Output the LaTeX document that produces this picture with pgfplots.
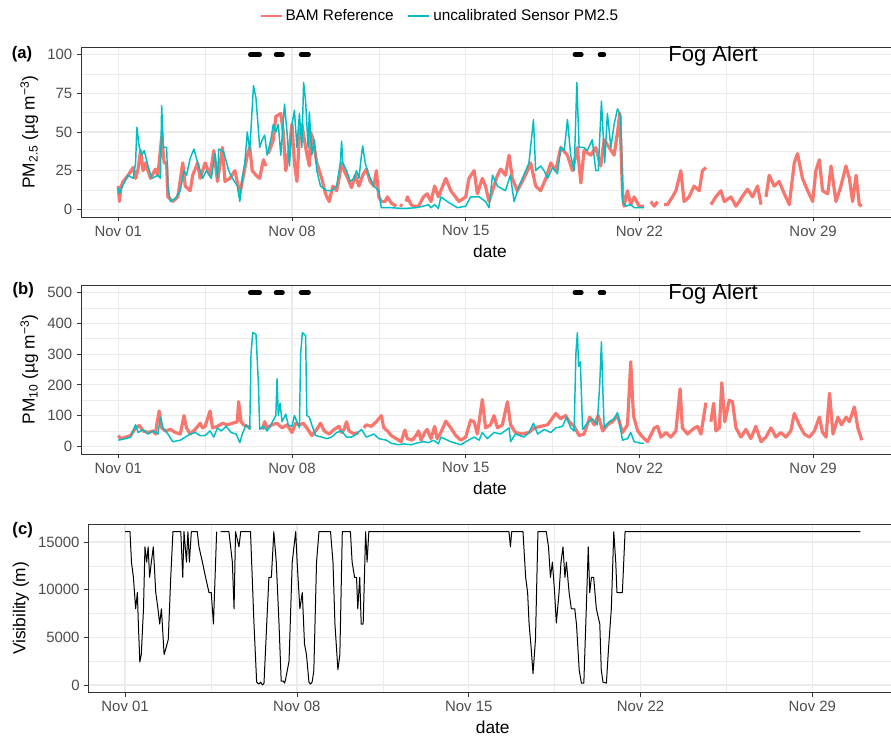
\documentclass[border=0pt]{standalone}
\usepackage{pgfplots}
\pgfplotsset{compat=1.18}
\usepackage{fontspec}
\setmainfont{Liberation Sans}
\definecolor{bam}{HTML}{F8766D}
\definecolor{sen}{HTML}{00BFC4}
\definecolor{gridc}{HTML}{EBEBEB}
\definecolor{framec}{HTML}{333333}
\definecolor{ticklab}{HTML}{4D4D4D}

\pgfplotsset{
  panel/.style={
    scale only axis,
    xmin=-1.5, xmax=31.46,
    xtick={0,7,14,21,28},
    xticklabels={Nov 01,Nov 08,Nov 15,Nov 22,Nov 29},
    minor xtick={3.5,10.5,17.5,24.5},
    grid=both,
    major grid style={gridc, line width=0.9pt},
    minor grid style={gridc, line width=0.45pt},
    axis line style={framec, line width=0.6pt},
    tick style={framec, line width=0.6pt},
    major tick length=3pt,
    minor tick length=0pt,
    tick align=outside,
    xtick pos=bottom, ytick pos=left,
    tick label style={font=\fontsize{11.2}{13}\selectfont, text=ticklab},
    label style={font=\fontsize{13}{15}\selectfont},
    xlabel={date},
    /pgf/number format/assume math mode=true,
    unbounded coords=jump,
  },
  bamline/.style={bam, line width=2.4pt, line join=round},
  senline/.style={sen, line width=1.1pt, line join=round},
  fogdot/.style={black, line width=3.4pt, line cap=round, forget plot},
}

\begin{document}
\begin{tikzpicture}
\useasboundingbox (0,0) rectangle (668.25pt,556.5pt);

% (a) PM2.5
\begin{axis}[panel,
  at={(60.75pt,393.75pt)}, anchor=south west,
  width=613.5pt, height=127.5pt,
  ymin=-5, ymax=105,
  ytick={0,25,50,75,100},
  minor ytick={12.5,37.5,62.5,87.5},
  ylabel={PM\textsubscript{2.5} (µg m\textsuperscript{−3})},
  legend style={draw=none, fill=none, legend columns=2, at={(0.439,1.182)}, anchor=center,
    font=\fontsize{11.5}{13}\selectfont,
    /tikz/every even column/.append style={column sep=8pt}},
  legend image code/.code={\draw[#1, line width=2pt] (0cm,0cm) -- (0.55cm,0cm);},
]
\addplot[bamline] coordinates {
(0,15)(0.05,5)(0.1,14)(0.2,18)(0.4,22)(0.6,27)(0.7,20)(0.8,26)(0.9,38)(1.0,25)(1.1,30)(1.3,20)(1.5,26)(1.6,22)(1.75,47)(1.85,30)(1.95,30)(2.0,8)(2.2,5)(2.4,8)(2.6,30)(2.7,15)(2.9,12)(3.0,22)(3.2,30)(3.3,20)(3.5,30)(3.7,22)(3.85,38)(4.0,18)(4.2,40)(4.3,18)(4.5,20)(4.7,25)(4.9,10)(5.0,18)(5.2,35)(5.3,40)(5.4,25)(5.55,22)(5.7,20)(5.85,32)(5.95,28)(6.0,nan)(6.05,36)(6.25,45)(6.35,60)(6.55,62)(6.65,50)(6.75,25)(6.9,40)(7.0,55)(7.1,30)(7.2,18)(7.3,48)(7.4,55)(7.55,40)(7.7,28)(7.75,50)(7.85,45)(8.0,30)(8.2,20)(8.35,10)(8.5,5)(8.65,15)(8.8,12)(8.9,20)(9.0,30)(9.1,25)(9.25,20)(9.4,14)(9.55,22)(9.7,15)(9.85,22)(10.0,26)(10.15,18)(10.3,15)(10.4,25)(10.5,8)(10.6,5)(10.75,5)(10.85,8)(11.0,4)(11.2,2)(11.3,nan)(11.35,3)(11.45,2)(11.5,nan)(11.6,5)(11.65,8)(11.8,3)(11.9,2)(12.1,2)(12.3,8)(12.45,10)(12.6,5)(12.75,15)(12.9,8)(13.0,12)(13.2,20)(13.4,12)(13.73,5)(14.0,8)(14.13,20)(14.34,25)(14.47,10)(14.67,20)(14.8,15)(14.94,5)(15.08,12)(15.28,22)(15.41,26)(15.6,22)(15.75,35)(15.88,20)(16.08,12)(16.28,18)(16.49,25)(16.62,30)(16.82,15)(17.02,12)(17.23,20)(17.43,30)(17.63,25)(17.83,40)(18.1,35)(18.3,25)(18.5,40)(18.64,17)(18.77,38)(19.04,35)(19.24,40)(19.44,28)(19.58,45)(19.78,40)(19.98,35)(20.12,50)(20.21,62)(20.32,10)(20.38,2)(20.52,12)(20.65,3)(20.79,8)(20.99,2)(21.19,2)(21.3,nan)(21.46,5)(21.6,2)(21.73,5)(21.85,nan)(22.0,3)(22.13,3)(22.33,8)(22.47,12)(22.67,25)(22.8,5)(23.0,8)(23.2,15)(23.41,12)(23.54,25)(23.68,27)(23.75,nan)(23.88,3)(24.08,8)(24.28,12)(24.42,5)(24.69,8)(24.89,2)(25.02,5)(25.22,10)(25.36,13)(25.56,8)(25.76,15)(25.9,3)(26.0,nan)(26.1,8)(26.23,22)(26.43,15)(26.63,18)(26.84,10)(27.04,3)(27.24,30)(27.37,36)(27.57,20)(27.78,12)(27.98,5)(28.11,25)(28.25,32)(28.38,12)(28.59,10)(28.72,28)(28.92,5)(29.12,15)(29.32,28)(29.46,20)(29.59,5)(29.73,22)(29.86,3)(29.96,2)
};
\addplot[senline] coordinates {
(0,14)(0.05,10)(0.2,16)(0.4,22)(0.6,20)(0.7,30)(0.75,53)(0.85,40)(0.95,35)(1.05,38)(1.2,28)(1.35,20)(1.6,22)(1.7,20)(1.75,67)(1.82,40)(1.95,40)(2.0,15)(2.1,5)(2.3,7)(2.5,12)(2.65,25)(2.75,22)(2.9,33)(3.05,39)(3.2,30)(3.4,20)(3.55,25)(3.75,20)(3.9,36)(4.0,20)(4.05,39)(4.25,37)(4.45,25)(4.6,20)(4.8,15)(4.9,5)(5.0,20)(5.1,30)(5.2,50)(5.3,38)(5.45,80)(5.55,72)(5.7,40)(5.8,45)(5.9,48)(6.0,35)(6.15,45)(6.25,55)(6.35,50)(6.45,55)(6.55,35)(6.7,68)(6.8,50)(6.9,28)(7.0,55)(7.1,64)(7.2,40)(7.3,62)(7.4,40)(7.47,82)(7.55,70)(7.65,40)(7.7,63)(7.8,35)(7.9,45)(8.0,25)(8.15,15)(8.4,12)(8.6,12)(8.8,15)(8.95,30)(9.0,44)(9.05,30)(9.2,25)(9.35,18)(9.5,20)(9.6,25)(9.7,20)(9.8,35)(9.85,41)(9.95,30)(10.1,22)(10.3,15)(10.5,12)(10.6,1)(11.0,1)(11.5,0.5)(12.0,1)(12.3,2)(12.5,3)(12.6,1)(12.75,3)(12.9,0.5)(13.0,8)(13.26,5)(13.66,1)(14.0,2)(14.2,8)(14.54,8)(14.8,5)(14.94,1)(15.08,22)(15.28,15)(15.6,12)(15.8,22)(15.95,5)(16.15,15)(16.42,25)(16.55,30)(16.73,58)(16.82,25)(17.02,28)(17.16,25)(17.3,20)(17.5,27)(17.7,23)(17.83,40)(17.97,38)(18.1,58)(18.23,35)(18.37,25)(18.48,82)(18.57,40)(18.77,40)(18.9,38)(19.1,45)(19.24,25)(19.34,25)(19.47,70)(19.6,30)(19.71,62)(19.85,40)(19.98,55)(20.12,65)(20.25,60)(20.32,5)(20.45,2)(20.65,3)(20.79,1)(21.19,1)
};
\addplot[fogdot] coordinates {(5.32,100)(5.70,100)(6,nan)(6.36,100)(6.62,100)(7,nan)(7.37,100)(7.67,100)(10,nan)(18.4,100)(18.66,100)(19,nan)(19.41,100)(19.57,100)};
\node[font=\fontsize{16.5}{18}\selectfont] at (axis cs:23.97,99.5) {Fog Alert};
\legend{BAM Reference, uncalibrated Sensor PM2.5}
\end{axis}

% (b) PM10
\begin{axis}[panel,
  at={(60.75pt,216pt)}, anchor=south west,
  width=613.5pt, height=126.75pt,
  ymin=-25, ymax=525,
  ytick={0,100,200,300,400,500},
  minor ytick={50,150,250,350,450},
  ylabel={PM\textsubscript{10} (µg m\textsuperscript{−3})},
]
\addplot[bamline] coordinates {
(0,35)(0.1,25)(0.3,30)(0.5,35)(0.7,60)(0.85,68)(1.0,50)(1.2,45)(1.4,50)(1.5,40)(1.55,70)(1.65,115)(1.75,60)(1.9,50)(2.1,55)(2.3,45)(2.5,40)(2.65,100)(2.75,60)(2.9,40)(3.1,55)(3.3,75)(3.4,60)(3.5,65)(3.7,115)(3.8,60)(4.0,65)(4.2,75)(4.4,70)(4.6,75)(4.8,80)(4.85,145)(4.95,80)(5.05,70)(5.2,65)(5.35,60)(5.45,nan)(5.8,55)(5.9,80)(6.0,60)(6.2,70)(6.4,75)(6.6,60)(6.8,70)(7.0,45)(7.15,75)(7.3,70)(7.45,75)(7.6,60)(7.8,35)(8.0,55)(8.15,75)(8.3,50)(8.5,40)(8.7,55)(8.9,65)(9.0,45)(9.1,55)(9.2,80)(9.3,50)(9.5,40)(9.7,45)(9.75,nan)(9.9,60)(10.0,70)(10.2,65)(10.4,80)(10.5,90)(10.6,100)(10.7,60)(10.85,50)(11.0,35)(11.2,25)(11.4,15)(11.55,53)(11.65,25)(11.85,20)(12.0,35)(12.1,50)(12.2,20)(12.35,45)(12.45,55)(12.6,25)(12.75,65)(12.85,25)(13.0,45)(13.2,82)(13.4,60)(13.6,35)(13.8,20)(14.0,30)(14.2,85)(14.34,80)(14.47,40)(14.67,152)(14.8,60)(15.0,70)(15.14,100)(15.28,60)(15.48,70)(15.68,145)(15.81,70)(16.0,45)(16.28,40)(16.55,45)(16.76,60)(17.02,65)(17.3,70)(17.63,107)(17.83,90)(18.03,100)(18.17,80)(18.37,65)(18.57,35)(18.77,40)(19.0,95)(19.18,70)(19.34,100)(19.52,50)(19.71,70)(19.91,80)(20.12,100)(20.32,45)(20.52,70)(20.65,275)(20.76,100)(20.93,50)(21.13,30)(21.33,15)(21.6,60)(21.73,65)(21.87,30)(22.07,45)(22.27,30)(22.47,50)(22.64,187)(22.73,60)(22.94,40)(23.14,55)(23.34,65)(23.48,40)(23.68,142)(23.75,nan)(23.88,80)(23.99,140)(24.08,50)(24.22,60)(24.32,207)(24.44,80)(24.62,150)(24.75,145)(24.89,60)(25.09,30)(25.29,55)(25.49,25)(25.69,65)(25.9,15)(26.1,30)(26.3,60)(26.5,30)(26.7,45)(26.9,30)(27.1,50)(27.24,107)(27.44,70)(27.64,40)(27.85,30)(28.05,50)(28.25,95)(28.38,45)(28.52,30)(28.66,173)(28.8,40)(29.0,95)(29.14,70)(29.33,95)(29.46,80)(29.66,128)(29.8,60)(29.96,20)
};
\addplot[senline] coordinates {
(0,20)(0.3,25)(0.5,30)(0.7,70)(0.8,45)(1.0,55)(1.2,40)(1.4,50)(1.6,40)(1.7,95)(1.8,60)(2.0,40)(2.2,15)(2.5,20)(2.7,30)(2.9,40)(3.1,45)(3.3,35)(3.5,35)(3.7,50)(3.85,30)(4.0,60)(4.15,50)(4.35,65)(4.55,45)(4.75,40)(4.9,12)(5.0,40)(5.15,70)(5.3,55)(5.35,300)(5.42,370)(5.55,365)(5.65,200)(5.7,55)(5.85,65)(6.0,50)(6.15,70)(6.35,100)(6.4,220)(6.45,100)(6.52,140)(6.6,80)(6.75,105)(6.85,70)(7.0,65)(7.1,100)(7.2,80)(7.3,60)(7.35,300)(7.42,370)(7.55,360)(7.6,100)(7.7,95)(7.8,70)(7.95,35)(8.2,30)(8.4,25)(8.6,30)(8.8,45)(9.0,50)(9.2,30)(9.4,30)(9.6,40)(9.8,55)(10.0,30)(10.3,40)(10.5,25)(10.8,20)(11.0,10)(11.3,5)(11.5,8)(11.8,5)(12.0,10)(12.3,15)(12.5,12)(12.7,20)(12.9,8)(13.0,30)(13.4,15)(13.8,5)(14.0,15)(14.34,30)(14.54,20)(14.67,45)(14.87,25)(15.14,45)(15.41,40)(15.75,60)(15.81,15)(16.0,40)(16.35,30)(16.55,45)(16.73,75)(16.9,40)(17.16,55)(17.43,45)(17.63,60)(17.9,65)(18.07,95)(18.23,60)(18.37,50)(18.44,300)(18.5,370)(18.55,260)(18.62,275)(18.71,55)(18.9,75)(19.1,90)(19.3,70)(19.4,200)(19.47,340)(19.52,200)(19.58,60)(19.78,80)(19.98,90)(20.12,110)(20.32,20)(20.52,25)(20.65,45)(20.79,15)(21.06,10)(21.19,10)
};
\addplot[fogdot] coordinates {(5.32,500)(5.70,500)(6,nan)(6.36,500)(6.62,500)(7,nan)(7.37,500)(7.67,500)(10,nan)(18.4,500)(18.66,500)(19,nan)(19.41,500)(19.57,500)};
\node[font=\fontsize{16.5}{18}\selectfont] at (axis cs:23.97,497) {Fog Alert};
\end{axis}

% (c) visibility
\begin{axis}[panel,
  at={(66.2pt,37pt)}, anchor=south west,
  width=606.75pt, height=126.5pt,
  ymin=-805, ymax=16898,
  ytick={0,5000,10000,15000},
  minor ytick={2500,7500,12500},
  scaled y ticks=false,
  yticklabel style={/pgf/number format/1000 sep={}},
  ylabel={Visibility (m)},
]
\addplot[black, line width=0.75pt, line join=round] coordinates {
(0,16093)(0.2,16093)(0.26,12900)(0.34,11300)(0.43,8000)(0.5,9700)(0.54,6500)(0.6,2400)(0.66,3200)(0.75,8000)(0.81,14500)(0.88,12900)(0.94,14500)(1.0,11300)(1.07,12900)(1.15,14500)(1.25,9700)(1.34,8000)(1.41,6400)(1.48,8000)(1.59,3200)(1.68,4000)(1.76,4800)(1.86,11300)(1.95,16093)(2.27,16093)(2.35,11300)(2.4,16093)(2.5,12900)(2.56,16093)(2.62,12900)(2.7,16093)(2.94,16093)(3.01,14500)(3.15,12900)(3.28,11300)(3.42,9700)(3.51,9700)(3.6,6400)(3.73,16093)(3.8,nan)(3.89,16093)(4.23,16093)(4.3,14500)(4.37,12900)(4.44,8000)(4.5,16093)(4.64,14500)(4.71,16093)(5.11,16093)(5.25,6500)(5.36,300)(5.45,100)(5.52,300)(5.6,0)(5.66,200)(5.79,7500)(5.86,11300)(5.96,11300)(6.06,16093)(6.16,12900)(6.27,6500)(6.36,400)(6.45,400)(6.5,200)(6.54,600)(6.68,2500)(6.81,12900)(6.95,16093)(7.01,12900)(7.12,8000)(7.22,9700)(7.31,4300)(7.39,3200)(7.49,300)(7.55,100)(7.62,300)(7.69,1500)(7.8,12900)(7.9,16093)(8.37,16093)(8.47,12900)(8.55,6400)(8.67,1600)(8.75,3200)(8.85,16093)(9.18,16093)(9.25,12900)(9.35,11300)(9.43,11300)(9.48,8000)(9.56,11300)(9.62,6400)(9.7,6400)(9.8,16093)(9.86,12900)(9.93,16093)(15.64,16093)(15.7,14500)(15.75,16093)(16.21,16093)(16.32,11300)(16.4,9700)(16.46,6400)(16.54,4000)(16.62,1200)(16.72,4800)(16.82,16093)(17.16,16093)(17.25,14500)(17.33,11300)(17.41,12900)(17.5,9700)(17.57,6500)(17.68,9700)(17.76,12900)(17.84,14500)(17.92,11300)(17.98,12900)(18.09,9700)(18.18,8000)(18.32,8000)(18.39,6400)(18.5,1600)(18.59,200)(18.69,200)(18.79,8000)(18.87,14500)(18.93,9700)(19.0,11300)(19.09,11300)(19.2,8000)(19.34,6400)(19.4,1600)(19.47,300)(19.61,200)(19.7,4000)(19.81,8000)(19.91,16093)(19.99,12900)(20.04,9700)(20.26,9700)(20.37,16093)(29.96,16093)
};
\end{axis}

\node[font=\fontsize{12.5}{14}\bfseries\selectfont] at (16.5pt,515.5pt) {(a)};
\node[font=\fontsize{12.5}{14}\bfseries\selectfont] at (17.5pt,339pt) {(b)};
\node[font=\fontsize{12.5}{14}\bfseries\selectfont] at (17pt,159pt) {(c)};
\end{tikzpicture}
\end{document}
